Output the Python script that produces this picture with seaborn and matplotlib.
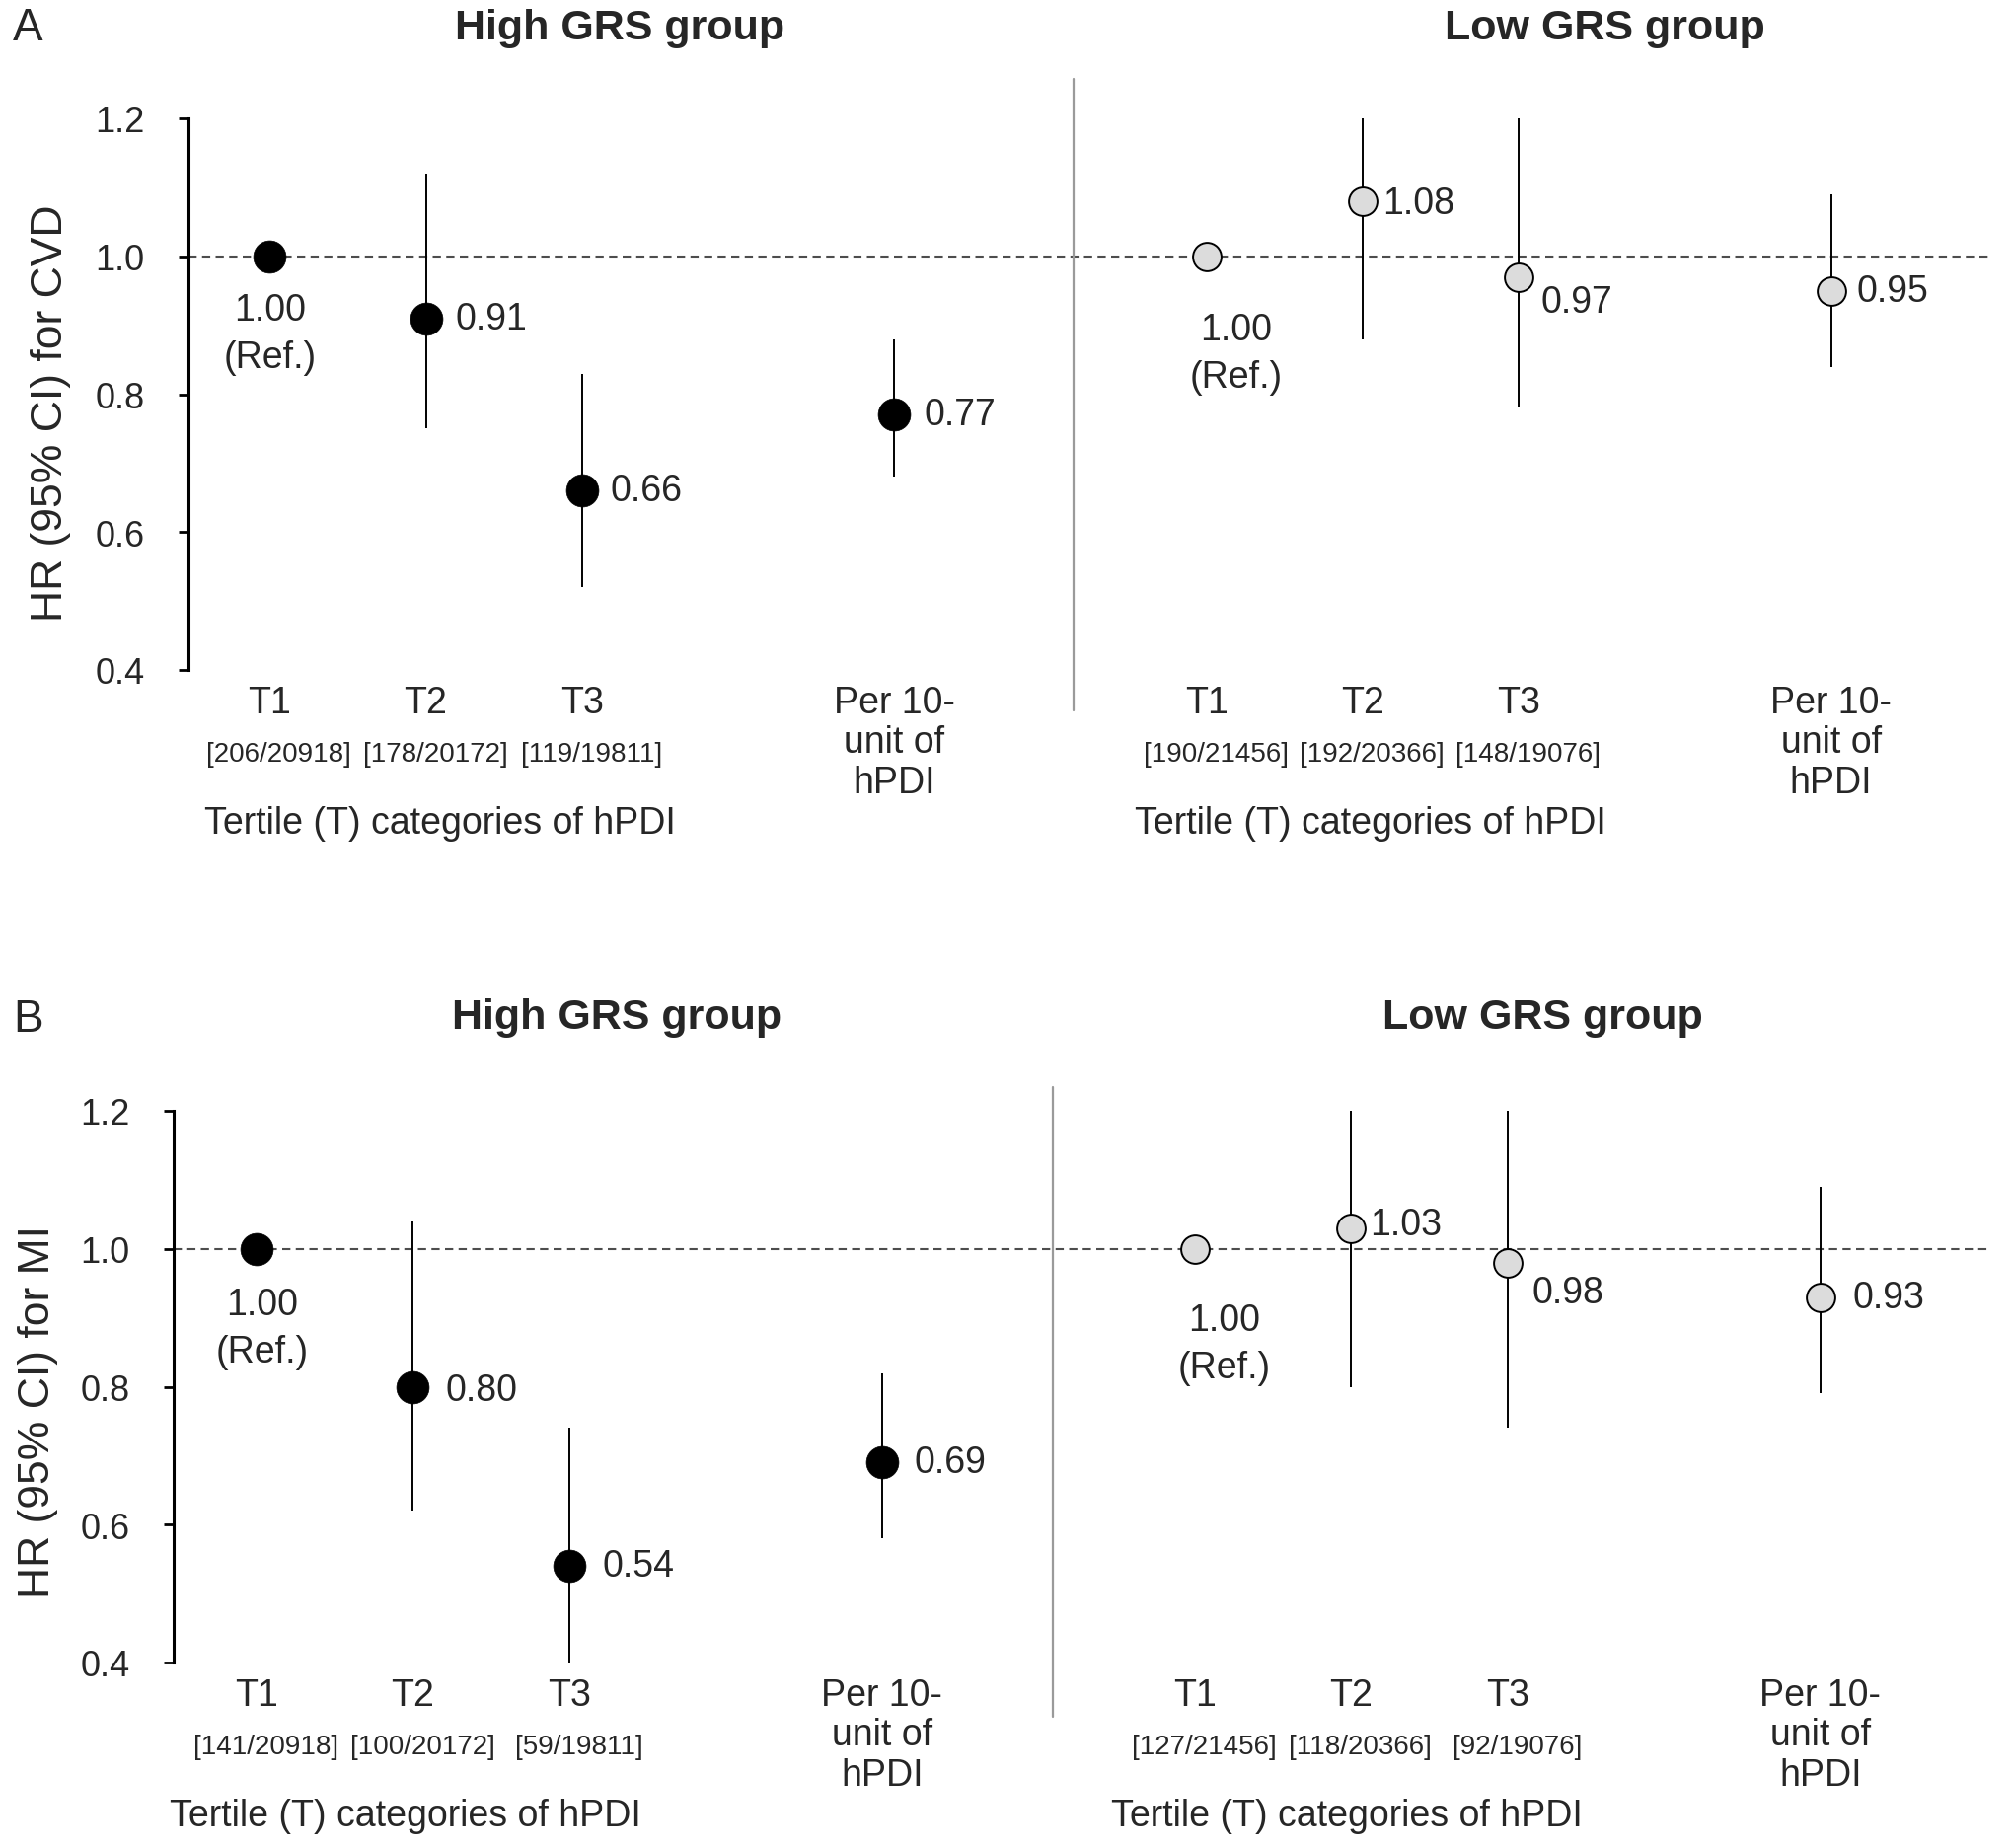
import matplotlib
matplotlib.use("Agg")
import matplotlib.pyplot as plt
import matplotlib.transforms as mtransforms
import pandas as pd
import seaborn as sns

# ---- data ----
categories = ["T1", "T2", "T3", "Per 10-unit"]
tick_labels = ["T1", "T2", "T3", "Per 10-\nunit of\nhPDI"]

cvd_high_hr = [1.00, 0.91, 0.66, 0.77]
cvd_high_lo = [1.00, 0.75, 0.52, 0.68]
cvd_high_hi = [1.00, 1.12, 0.83, 0.88]
cvd_low_hr = [1.00, 1.08, 0.97, 0.95]
cvd_low_lo = [1.00, 0.88, 0.78, 0.84]
cvd_low_hi = [1.00, 1.20, 1.20, 1.09]

mi_high_hr = [1.00, 0.80, 0.54, 0.69]
mi_high_lo = [1.00, 0.62, 0.40, 0.58]
mi_high_hi = [1.00, 1.04, 0.74, 0.82]
mi_low_hr = [1.00, 1.03, 0.98, 0.93]
mi_low_lo = [1.00, 0.80, 0.74, 0.79]
mi_low_hi = [1.00, 1.20, 1.20, 1.09]

cvd_high_cases = ["[206/20918]", "[178/20172]", "[119/19811]"]
cvd_low_cases = ["[190/21456]", "[192/20366]", "[148/19076]"]
mi_high_cases = ["[141/20918]", "[100/20172]", "[59/19811]"]
mi_low_cases = ["[127/21456]", "[118/20366]", "[92/19076]"]

groups = ["High GRS group", "Low GRS group"]
yticks = [0.4, 0.6, 0.8, 1.0, 1.2]

sns.set_theme(style="white")
plt.rcParams["font.family"] = ["Liberation Sans", "DejaVu Sans"]

W, H = 2040, 1874
fig = plt.figure(figsize=(W / 100, H / 100), dpi=100)

# x slot of each category, low group shifted by 6
slot = {"T1": 0, "T2": 1, "T3": 2, "Per 10-unit": 4}
shift = {"High GRS group": 0, "Low GRS group": 6}


def make_df(hr_h, lo_h, hi_h, hr_l, lo_l, hi_l):
    rows = []
    for g, hr, lo, hi in [(groups[0], hr_h, lo_h, hi_h), (groups[1], hr_l, lo_l, hi_l)]:
        for c, v, a, b in zip(categories, hr, lo, hi):
            rows.append({"group": g, "cat": c, "x": slot[c] + shift[g],
                         "hr": v, "lo": a, "hi": b})
    return pd.DataFrame(rows)


panels = [
    dict(df=make_df(cvd_high_hr, cvd_high_lo, cvd_high_hi, cvd_low_hr, cvd_low_lo, cvd_low_hi),
         cases=[cvd_high_cases, cvd_low_cases], ylabel="HR (95% CI) for CVD", letter="A",
         rect=[191, 121, 2017, 680], xlim=(-0.52, 11.02), sep=5.15, sep_span=(-0.073, 1.072),
         title_y=29, title_x=[628, 1626], ylab_xy=(52, 419), letter_y=29, tert_x=[1.09, 7.05],
         offsets=[[(0, -36, "ref"), (30, 0), (29, 0), (30, 0)],
                  [(30, -56, "ref"), (20, -2), (22, -25), (26, 0)]]),
    dict(df=make_df(mi_high_hr, mi_high_lo, mi_high_hi, mi_low_hr, mi_low_lo, mi_low_hi),
         cases=[mi_high_cases, mi_low_cases], ylabel="HR (95% CI) for MI", letter="B",
         rect=[176, 1127, 2016, 1686], xlim=(-0.53, 11.08), sep=5.09, sep_span=(-0.098, 1.043),
         title_y=1032, title_x=[625, 1563], ylab_xy=(39, 1431), letter_y=1034, tert_x=[0.95, 6.97],
         offsets=[[(6, -38, "ref"), (33, -4), (34, 0), (33, 0)],
                  [(30, -54, "ref"), (19, 4), (25, -30), (33, 0)]]),
]

for p in panels:
    l, t, r, b = p["rect"]
    ax = fig.add_axes([l / W, 1 - b / H, (r - l) / W, (b - t) / H])
    df = p["df"]

    ax.axhline(1.0, color="#4d4d4d", lw=1.5, ls=(0, (4, 2.6)), zorder=1)
    ax.axvline(p["sep"], ymin=p["sep_span"][0], ymax=p["sep_span"][1],
               color="#9a9a9a", lw=1.6, clip_on=False)

    ci = df[df["lo"] != df["hi"]]
    ax.vlines(ci["x"], ci["lo"], ci["hi"], color="black", lw=1.4, zorder=2)

    sns.scatterplot(data=df[df["group"] == groups[0]], x="x", y="hr", ax=ax,
                    color="black", edgecolor="black", s=560, linewidth=0.5,
                    zorder=3, legend=False)
    sns.scatterplot(data=df[df["group"] == groups[1]], x="x", y="hr", ax=ax,
                    color="#dcdcdc", edgecolor="black", s=430, linewidth=1.4,
                    zorder=3, legend=False)
    ax.set_xlabel("")
    ax.set_ylabel("")

    # value labels
    for gi, g in enumerate(groups):
        sub = df[df["group"] == g].reset_index(drop=True)
        for i, row in sub.iterrows():
            off = p["offsets"][gi][i]
            if len(off) == 3:
                ax.annotate("1.00\n(Ref.)", (row["x"], row["hr"]), xytext=(off[0], off[1]),
                            textcoords="offset pixels", ha="center", va="top",
                            fontsize=27, linespacing=1.45)
            else:
                ax.annotate(f"{row['hr']:.2f}", (row["x"], row["hr"]), xytext=off,
                            textcoords="offset pixels", ha="left", va="center",
                            fontsize=27)

    ax.set_xlim(*p["xlim"])
    ax.set_ylim(0.4, 1.2)
    ax.set_yticks(yticks)
    ax.set_yticklabels([f"{v:.1f}" for v in yticks], fontsize=26)
    xs = [slot[c] + shift[g] for g in groups for c in categories]
    ax.set_xticks(xs)
    ax.set_xticklabels(tick_labels * 2, fontsize=27, linespacing=1.15)
    ax.tick_params(axis="x", length=0, pad=11)
    ax.tick_params(axis="y", direction="out", length=7, width=2, pad=25, left=True, color="black")
    for side in ["top", "right", "bottom"]:
        ax.spines[side].set_visible(False)
    ax.spines["left"].set_color("black")
    ax.spines["left"].set_linewidth(2.2)

    trans = mtransforms.blended_transform_factory(ax.transData, ax.transAxes)
    for gi, g in enumerate(groups):
        for c, txt in zip(categories[:3], p["cases"][gi]):
            ax.text(slot[c] + shift[g] + 0.06, -0.152, txt, transform=trans,
                    ha="center", va="center", fontsize=20)
        ax.text(p["tert_x"][gi], -0.278, "Tertile (T) categories of hPDI", transform=trans,
                ha="center", va="center", fontsize=27)
        fig.text(p["title_x"][gi] / W, 1 - p["title_y"] / H, g, ha="center", va="center",
                 fontsize=31, fontweight="bold")

    fig.text(p["ylab_xy"][0] / W, 1 - p["ylab_xy"][1] / H, p["ylabel"], rotation=90,
             ha="center", va="center", fontsize=32)
    fig.text(13 / W, 1 - p["letter_y"] / H, p["letter"], ha="left", va="center", fontsize=33)

fig.savefig("out.png", dpi=100, facecolor="white")
